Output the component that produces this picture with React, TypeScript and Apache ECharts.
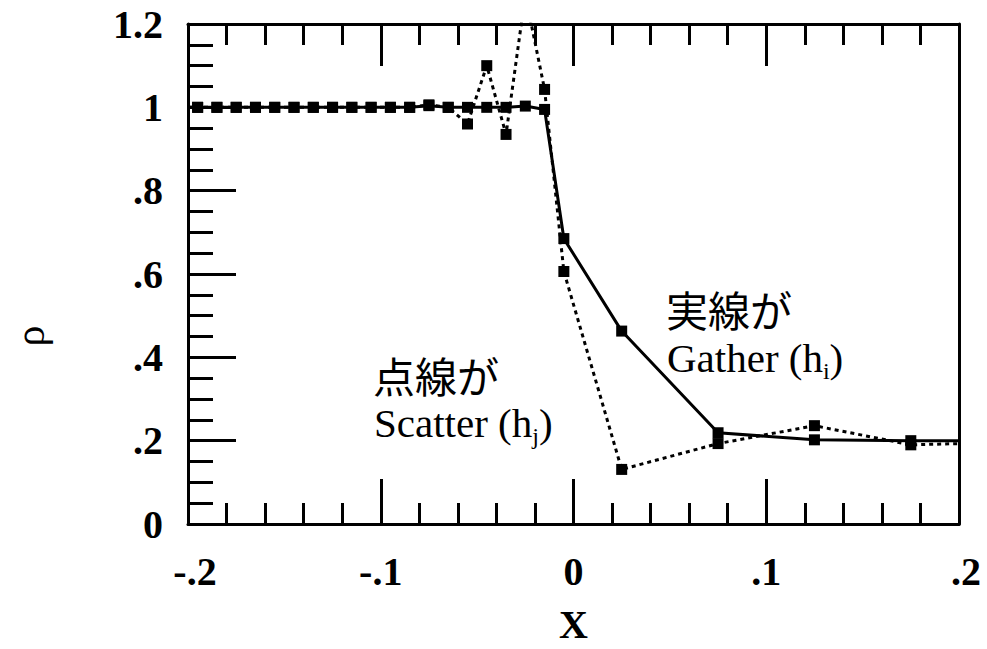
import React, { useEffect, useRef } from "react";
import * as echarts from "echarts";

const X_TICK_LABELS = ["-.2", "-.1", "0", ".1", ".2"];
const Y_TICK_LABELS = ["0", ".2", ".4", ".6", ".8", "1", "1.2"];

// Gather (h_i) – solid line
const gatherX = [
  -0.2, -0.195, -0.185, -0.175, -0.165, -0.155, -0.145, -0.135, -0.125, -0.115,
  -0.105, -0.095, -0.085, -0.075, -0.065, -0.055, -0.045, -0.035, -0.025, -0.015,
  -0.005, 0.025, 0.075, 0.125, 0.175, 0.2,
];
const gatherY = [
  1.0, 1.0, 1.0, 1.0, 1.0, 1.0, 1.0, 1.0, 1.0, 1.0,
  1.0, 1.0, 1.0, 1.004, 1.0, 1.0, 1.0, 1.0, 1.003, 0.995,
  0.685, 0.463, 0.219, 0.202, 0.2, 0.2,
];

// Scatter (h_j) – dotted line
const scatterX = [
  -0.2, -0.195, -0.185, -0.175, -0.165, -0.155, -0.145, -0.135, -0.125, -0.115,
  -0.105, -0.095, -0.085, -0.075, -0.065, -0.055, -0.045, -0.035, -0.025, -0.015,
  -0.005, 0.025, 0.075, 0.125, 0.175, 0.2,
];
const scatterY = [
  1.0, 1.0, 1.0, 1.0, 1.0, 1.0, 1.0, 1.0, 1.0, 1.0,
  1.0, 1.0, 1.0, 1.006, 1.0, 0.96, 1.1, 0.935, 1.27, 1.043,
  0.606, 0.131, 0.193, 0.236, 0.19, 0.193,
];

const SERIF = '"Liberation Serif", "DejaVu Serif", serif';
const CJK = '"Noto Sans CJK JP", "Noto Sans", sans-serif';

function buildData(xs: number[], ys: number[]) {
  return xs.map((x, i) => {
    const end = i === 0 || i === xs.length - 1;
    return end ? { value: [x, ys[i]], symbol: "none" } : { value: [x, ys[i]] };
  });
}

export default function App() {
  const ref = useRef<HTMLDivElement>(null);
  useEffect(() => {
    if (!ref.current) return;
    const chart = echarts.init(ref.current, null, { renderer: "svg" });
    const black = "#000";
    const tickStyle = { color: black, width: 3 };
    const labelFont = { color: black, fontFamily: SERIF, fontWeight: "bold", fontSize: 40 };
    const option: any = {
      animation: false,
      backgroundColor: "#fff",
      grid: { left: 188, right: 28, top: 24, bottom: 121, containLabel: false },
      xAxis: [
        {
          type: "value",
          position: "bottom",
          min: -0.2,
          max: 0.2,
          interval: 0.1,
          splitLine: { show: false },
          axisLine: { show: true, onZero: false, lineStyle: { color: black, width: 3 } },
          axisTick: { show: true, inside: true, length: 45, lineStyle: tickStyle },
          minorTick: { show: true, splitNumber: 5, length: 21, lineStyle: tickStyle },
          axisLabel: {
            show: true,
            margin: 27,
            ...labelFont,
            rich: {
              e: { ...labelFont, padding: [0, 0, 0, 14] },
            },
            formatter: (v: number) => {
              const i = Math.round((v + 0.2) / 0.1);
              const t = X_TICK_LABELS[i] ?? "";
              return i === 0 || i === X_TICK_LABELS.length - 1 ? `{e|${t}}` : t;
            },
          },
          name: "X",
          nameLocation: "middle",
          nameGap: 80,
          nameTextStyle: { ...labelFont },
        },
        {
          type: "value",
          position: "top",
          min: -0.2,
          max: 0.2,
          interval: 0.1,
          splitLine: { show: false },
          axisLine: { show: true, onZero: false, lineStyle: { color: black, width: 3 } },
          axisTick: { show: true, inside: true, length: 42, lineStyle: tickStyle },
          minorTick: { show: true, splitNumber: 5, length: 21, lineStyle: tickStyle },
          axisLabel: { show: false },
        },
      ],
      yAxis: [
        {
          type: "value",
          position: "left",
          min: 0,
          max: 1.2,
          interval: 0.2,
          splitLine: { show: false },
          axisLine: { show: true, onZero: false, lineStyle: { color: black, width: 3 } },
          axisTick: { show: true, inside: true, length: 48, lineStyle: tickStyle },
          minorTick: { show: true, splitNumber: 4, length: 25, lineStyle: tickStyle },
          axisLabel: {
            show: true,
            margin: 25,
            ...labelFont,
            formatter: (v: number) => Y_TICK_LABELS[Math.round(v / 0.2)] ?? "",
          },
        },
        {
          type: "value",
          position: "right",
          min: 0,
          max: 1.2,
          interval: 0.2,
          splitLine: { show: false },
          axisLine: { show: true, onZero: false, lineStyle: { color: black, width: 3 } },
          axisTick: { show: false },
          axisLabel: { show: false },
        },
      ],
      graphic: [
        {
          type: "text",
          x: 30,
          y: 336,
          rotation: Math.PI / 2,
          style: {
            text: "ρ",
            fill: black,
            font: `42px ${SERIF}`,
            align: "center",
            verticalAlign: "middle",
          },
        },
        {
          type: "text",
          x: 373,
          y: 374,
          style: { text: "点線が", fill: black, font: `42px ${CJK}`, align: "left", verticalAlign: "middle" },
        },
        {
          type: "text",
          x: 374,
          y: 423,
          style: {
            text: "{a|Scatter (h}{s|j}{a|)}",
            align: "left",
            verticalAlign: "middle",
            rich: {
              a: { fill: black, fontFamily: SERIF, fontSize: 41, lineHeight: 50, verticalAlign: "middle" },
              s: { fill: black, fontFamily: SERIF, fontSize: 24, lineHeight: 22, verticalAlign: "bottom" },
            },
          },
        },
        {
          type: "text",
          x: 666,
          y: 308,
          style: { text: "実線が", fill: black, font: `42px ${CJK}`, align: "left", verticalAlign: "middle" },
        },
        {
          type: "text",
          x: 667,
          y: 358,
          style: {
            text: "{a|Gather (h}{s|i}{a|)}",
            align: "left",
            verticalAlign: "middle",
            rich: {
              a: { fill: black, fontFamily: SERIF, fontSize: 41, lineHeight: 50, verticalAlign: "middle" },
              s: { fill: black, fontFamily: SERIF, fontSize: 24, lineHeight: 22, verticalAlign: "bottom" },
            },
          },
        },
      ],
      series: [
        {
          name: "Scatter (hj)",
          type: "line",
          xAxisIndex: 0,
          yAxisIndex: 0,
          data: buildData(scatterX, scatterY),
          symbol: "rect",
          symbolSize: 11,
          showAllSymbol: true,
          clip: true,
          lineStyle: { color: black, width: 3, type: [4, 4] },
          itemStyle: { color: black },
        },
        {
          name: "Gather (hi)",
          type: "line",
          xAxisIndex: 0,
          yAxisIndex: 0,
          data: buildData(gatherX, gatherY),
          symbol: "rect",
          symbolSize: 11,
          showAllSymbol: true,
          clip: true,
          lineStyle: { color: black, width: 3, type: "solid" },
          itemStyle: { color: black },
        },
      ],
    };
    chart.setOption(option);
    return () => chart.dispose();
  }, []);
  return (
    <div
      ref={ref}
      style={{ position: "absolute", left: 0, top: 0, width: 987, height: 649, background: "#fff" }}
    />
  );
}
